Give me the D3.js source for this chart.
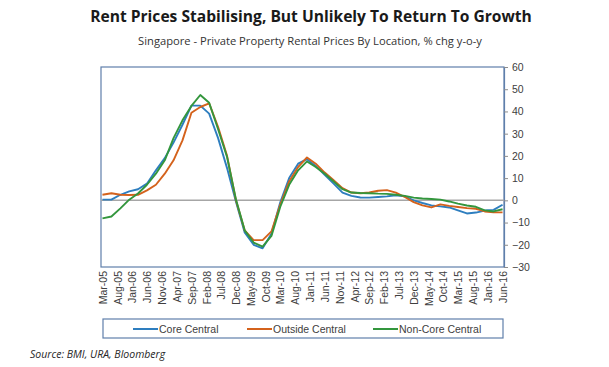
<!DOCTYPE html>
<html><head><meta charset="utf-8">
<script src="https://cdn.jsdelivr.net/npm/d3@7"></script>
<style>body{margin:0;background:#fff}svg{display:block}</style>
</head><body>
<svg id="c" width="609" height="367"></svg>
<script>
const title = "Rent Prices Stabilising, But Unlikely To Return To Growth";
const subtitle = "Singapore - Private Property Rental Prices By Location, % chg y-o-y";
const source = "Source: BMI, URA, Bloomberg";
const seriesNames = ["Core Central", "Outside Central", "Non-Core Central"];
const seriesColors = ["#2e7ebf", "#d4621c", "#33963d"];
// quarterly observations, Mar-05 .. Jun-16
const quarters = d3.timeMonth.range(new Date(2005, 2, 1), new Date(2016, 6, 1), 3);
const coreCentral = [0.3,0.3,2.5,4,5,7.5,13.5,19,26,34,42.6,42.6,39,28,14.5,-0.5,-14.5,-20,-21.6,-15,
  -1,10,16.5,18.5,15.5,11.5,7.5,3.5,2,1.3,1.2,1.5,1.8,2.3,1.8,0,-1.2,-2.3,-2.7,-3.2,-4.5,-5.9,-5.5,-4.6,-4.3,-2];
const outsideCentral = [2.5,3.2,2.5,2.4,2.5,4.5,7,12,18,27,39.4,42,43.6,33,20,0,-13.5,-17.9,-17.9,-14,
  -2,8.5,15,19.3,16.5,12.5,9,5.5,3.5,3.2,3.5,4.3,4.6,3.5,1.5,-0.8,-2.3,-3.2,-1.8,-2.5,-3,-3.5,-3.8,-5,-5.4,-5.4];
const nonCoreCentral = [-8.1,-7.3,-3.6,0.3,3.1,7,12,18,28,36,42.5,47.4,43.9,32,19.5,0.5,-13.5,-19,-20.8,-16,
  -3,7,13.5,17.5,15,12,8.5,5,3.5,3.3,3.2,3,2.9,2.5,2,1.2,0.8,0.6,0.3,-0.5,-1.5,-2.3,-2.9,-4.5,-5,-4];
const xTickLabels = ["Mar-05","Aug-05","Jan-06","Jun-06","Nov-06","Apr-07","Sep-07","Feb-08","Jul-08","Dec-08",
  "May-09","Oct-09","Mar-10","Aug-10","Jan-11","Jun-11","Nov-11","Apr-12","Sep-12","Feb-13","Jul-13","Dec-13",
  "May-14","Oct-14","Mar-15","Aug-15","Jan-16","Jun-16"];
const yTicks = [-30,-20,-10,0,10,20,30,40,50,60];

const series = [coreCentral, outsideCentral, nonCoreCentral];
const svg = d3.select("#c");
const L = 101, R = 504, T = 67, B = 267;
const parse = d3.timeParse("%b-%y");
const x = d3.scaleTime()
  .domain([d3.timeDay.offset(new Date(2005,2,1), -15), d3.timeDay.offset(new Date(2016,5,1), 15)])
  .range([L, R]);
const y = d3.scaleLinear().domain([-30, 60]).range([B, T]);

svg.append("text").attr("x", 311).attr("y", 22).attr("text-anchor", "middle")
  .attr("font-family", "Open Sans").attr("font-weight", "bold").attr("font-size", 15.6)
  .attr("fill", "#1a1a1a").text(title);
svg.append("text").attr("x", 310).attr("y", 45).attr("text-anchor", "middle")
  .attr("font-family", "Open Sans").attr("font-size", 11.2)
  .attr("fill", "#333").text(subtitle);

// frame
svg.append("rect").attr("x", L).attr("y", T).attr("width", R - L).attr("height", B - T)
  .attr("fill", "none").attr("stroke", "#5f7fab").attr("stroke-width", 1.2);

// zero line
svg.append("line").attr("x1", L).attr("x2", R).attr("y1", y(0)).attr("y2", y(0))
  .attr("stroke", "#a6a6a6").attr("stroke-width", 1.5);

// right axis
const ya = svg.append("g").attr("transform", `translate(${R},0)`)
  .call(d3.axisRight(y).tickValues(yTicks).tickSize(4).tickPadding(4));
ya.select(".domain").attr("stroke", "#5f7fab").attr("stroke-width", 1.2);
ya.selectAll(".tick line").attr("stroke", "#8c8c8c");
ya.selectAll("text").attr("font-family", "Liberation Sans, Arial").attr("font-size", 10.5).attr("fill", "#404040");

// x labels
const xa = svg.append("g").attr("transform", `translate(0,${B})`)
  .call(d3.axisBottom(x).tickValues(xTickLabels.map(parse)).tickSize(0).tickFormat(d3.timeFormat("%b-%y")));
xa.select(".domain").remove();
xa.selectAll("text").attr("font-family", "Liberation Sans, Arial").attr("font-size", 10.5).attr("fill", "#404040")
  .attr("transform", "rotate(-90)").attr("text-anchor", "end").attr("x", -4).attr("y", 0).attr("dy", "0.35em");

// lines
const line = d3.line().x((d, i) => x(quarters[i])).y(d => y(d));
series.forEach((s, k) => {
  svg.append("path").datum(s).attr("d", line).attr("fill", "none")
    .attr("stroke", seriesColors[k]).attr("stroke-width", 1.9).attr("stroke-linejoin", "round");
});

// legend
svg.append("rect").attr("x", 103).attr("y", 319).attr("width", 400).attr("height", 19)
  .attr("fill", "none").attr("stroke", "#5f7fab").attr("stroke-width", 1.2);
const legX = [133, 247, 373];
seriesNames.forEach((n, k) => {
  svg.append("line").attr("x1", legX[k]).attr("x2", legX[k] + 25).attr("y1", 329).attr("y2", 329)
    .attr("stroke", seriesColors[k]).attr("stroke-width", 2);
  svg.append("text").attr("x", legX[k] + 26).attr("y", 332.5)
    .attr("font-family", "Liberation Sans, Arial").attr("font-size", 10.5).attr("fill", "#404040").text(n);
});

svg.append("text").attr("x", 30).attr("y", 358)
  .attr("font-family", "Open Sans").attr("font-style", "italic").attr("font-size", 10.5)
  .attr("fill", "#262626").text(source);
</script>
</body></html>
